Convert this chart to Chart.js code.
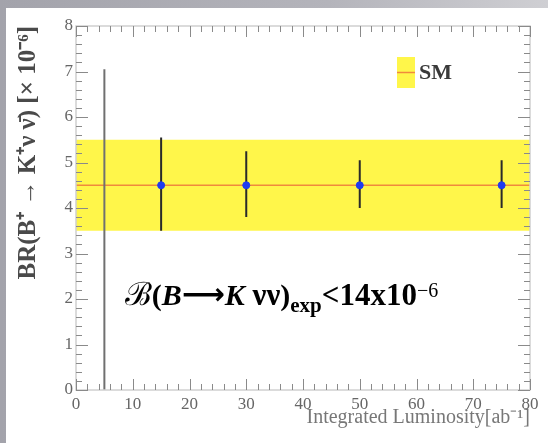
<!DOCTYPE html>
<html>
<head>
<meta charset="utf-8">
<script src="https://cdn.jsdelivr.net/npm/chart.js@4.4.0/dist/chart.umd.min.js"></script>
<style>
  html, body { margin: 0; padding: 0; }
  body {
    width: 548px; height: 443px; overflow: hidden; position: relative;
    background: linear-gradient(90deg, #a3a3ab 0%, #b4b4bb 60%, #cfcfd3 100%);
  }
  #panel { position: absolute; left: 6px; top: 8px; width: 542px; height: 435px; background: #fff; }
  #wrap { position: absolute; left: 0; top: 0; width: 548px; height: 443px; }
</style>
</head>
<body>
<div id="panel"></div>
<div id="wrap"><canvas id="grafico"></canvas></div>
<script>
// datos
const luminosidad = [5, 15, 30, 50, 75];          // ab^-1
const brCentral   = [null, 4.5, 4.5, 4.5, 4.5];   // x 10^-6
const errInferior = [0, 3.5, 3.8, 4.0, 4.0];
const errSuperior = [7.05, 5.55, 5.25, 5.05, 5.05];
const smValor = 4.5;
const smBajo = 3.5;
const smAlto = 5.5;
const rangoX = [0, 80];
const rangoY = [0, 8];

const AMARILLO = '#fff64a';
const NARANJA = '#f08a3c';
const AZUL = '#1f3cf0';
const SERIF = '"Liberation Serif", serif';

// barras de error: pares de puntos separados por null
function barras(indices) {
    const out = [];
    indices.forEach(i => {
        out.push({ x: luminosidad[i], y: errInferior[i] });
        out.push({ x: luminosidad[i], y: errSuperior[i] });
        out.push({ x: luminosidad[i], y: null });
    });
    return out;
}
const conCentral = luminosidad.map((_, i) => i).filter(i => brCentral[i] !== null);
const sinCentral = luminosidad.map((_, i) => i).filter(i => brCentral[i] === null);

/**
 * Marcas interiores (mayores y menores) en los cuatro lados + marco
 */
const marcasPlugin = {
    id: 'marcas',
    afterDraw(chart) {
        const { ctx, chartArea: a, scales: { x, y } } = chart;
        ctx.save();
        ctx.strokeStyle = '#d0d0d0';
        ctx.lineWidth = 1.5;
        ctx.strokeRect(a.left, a.top, a.right - a.left, a.bottom - a.top);

        ctx.strokeStyle = '#8a8a8a';
        ctx.lineWidth = 1;
        ctx.beginPath();
        for (let v = rangoX[0]; v <= rangoX[1] + 1e-9; v += 2) {
            const px = Math.round(x.getPixelForValue(v)) + 0.5;
            const len = (v % 10 === 0) ? 11 : 6;
            ctx.moveTo(px, a.bottom); ctx.lineTo(px, a.bottom - len);
            ctx.moveTo(px, a.top); ctx.lineTo(px, a.top + len);
        }
        for (let k = 0; k <= (rangoY[1] - rangoY[0]) * 5; k++) {
            const v = rangoY[0] + k * 0.2;
            const py = Math.round(y.getPixelForValue(v)) + 0.5;
            const len = (k % 5 === 0) ? 12 : 6;
            ctx.moveTo(a.left, py); ctx.lineTo(a.left + len, py);
            ctx.moveTo(a.right, py); ctx.lineTo(a.right - len, py);
        }
        ctx.stroke();

        // leyenda SM
        const lx = a.left + 321, ly = a.top + 31;
        ctx.fillStyle = AMARILLO;
        ctx.fillRect(lx, ly, 18, 31);
        ctx.strokeStyle = NARANJA;
        ctx.lineWidth = 1.5;
        ctx.beginPath();
        ctx.moveTo(lx, ly + 15.5); ctx.lineTo(lx + 18, ly + 15.5);
        ctx.stroke();
        ctx.fillStyle = '#3a3a3a';
        ctx.font = 'bold 22px ' + SERIF;
        ctx.textBaseline = 'middle';
        ctx.fillText('SM', lx + 22, ly + 16);

        // anotacion del limite experimental
        const partes = [
            { t: 'ℬ', f: '32px "DejaVu Serif", serif', dy: 0 },
            { t: '(', f: 'bold 30px ' + SERIF, dy: 0 },
            { t: 'B', f: 'bold italic 30px ' + SERIF, dy: 0 },
            { t: '⟶', f: 'bold 30px "DejaVu Sans", sans-serif', dy: -1 },
            { t: 'K', f: 'bold italic 30px ' + SERIF, dy: 0 },
            { t: ' νν', f: 'bold 31px ' + SERIF, dy: 0 },
            { t: ')', f: 'bold 30px ' + SERIF, dy: 0 },
            { t: 'exp', f: 'bold 21px ' + SERIF, dy: 7 },
            { t: '<14x10', f: 'bold 31px ' + SERIF, dy: 0 },
            { t: '−6', f: '20px ' + SERIF, dy: -8 }
        ];
        let cx = x.getPixelForValue(8.6);
        const base = y.getPixelForValue(1.86);
        ctx.fillStyle = '#000';
        ctx.textBaseline = 'alphabetic';
        partes.forEach(p => {
            ctx.font = p.f;
            ctx.fillText(p.t, cx, base + p.dy);
            cx += ctx.measureText(p.t).width;
        });
        ctx.restore();
    }
};

const ctx = document.getElementById('grafico').getContext('2d');
new Chart(ctx, {
    type: 'scatter',
    data: {
        datasets: [
            {
                label: 'SM banda',
                type: 'line',
                data: [{ x: rangoX[0], y: smAlto }, { x: rangoX[1], y: smAlto }],
                borderWidth: 0,
                pointRadius: 0,
                backgroundColor: AMARILLO,
                fill: { value: smBajo },
                order: 4
            },
            {
                label: 'SM',
                type: 'line',
                data: [{ x: rangoX[0], y: smValor }, { x: rangoX[1], y: smValor }],
                borderColor: NARANJA,
                borderWidth: 1.5,
                pointRadius: 0,
                fill: false,
                order: 3
            },
            {
                label: 'err sin central',
                type: 'line',
                data: barras(sinCentral),
                borderColor: '#707070',
                borderWidth: 2,
                pointRadius: 0,
                spanGaps: false,
                fill: false,
                order: 2
            },
            {
                label: 'err',
                type: 'line',
                data: barras(conCentral),
                borderColor: '#2a2a2a',
                borderWidth: 2,
                pointRadius: 0,
                spanGaps: false,
                fill: false,
                order: 1
            },
            {
                label: 'BR',
                data: conCentral.map(i => ({ x: luminosidad[i], y: brCentral[i] })),
                backgroundColor: AZUL,
                borderColor: AZUL,
                pointRadius: 3.5,
                order: 0
            }
        ]
    },
    options: {
        responsive: true,
        maintainAspectRatio: false,
        animation: false,
        layout: { padding: { top: 26, right: 18, left: 0, bottom: 0 } },
        plugins: {
            legend: { display: false },
            tooltip: { enabled: false }
        },
        scales: {
            x: {
                type: 'linear',
                min: rangoX[0], max: rangoX[1],
                afterFit: s => { s.height = 53; },
                grid: { display: false, drawTicks: false },
                border: { display: false },
                ticks: {
                    stepSize: 10,
                    padding: 4,
                    color: '#666',
                    font: { family: SERIF, size: 17 }
                },
                title: {
                    display: true,
                    text: 'Integrated Luminosity[ab⁻¹]',
                    align: 'end',
                    color: '#777',
                    padding: { top: 0, bottom: 13 },
                    font: { family: SERIF, size: 20 }
                }
            },
            y: {
                min: rangoY[0], max: rangoY[1],
                afterFit: s => { s.width = 76; },
                grid: { display: false, drawTicks: false },
                border: { display: false },
                ticks: {
                    stepSize: 1,
                    padding: 3,
                    color: '#666',
                    font: { family: SERIF, size: 17 }
                },
                title: {
                    display: true,
                    text: 'BR(B⁺ → K⁺ν ν̄) [× 10⁻⁶]',
                    align: 'end',
                    color: '#4a4a4a',
                    padding: { top: 14, bottom: 0 },
                    font: { family: SERIF, size: 25, weight: 'bold' }
                }
            }
        }
    },
    plugins: [marcasPlugin]
});
</script>
</body>
</html>
